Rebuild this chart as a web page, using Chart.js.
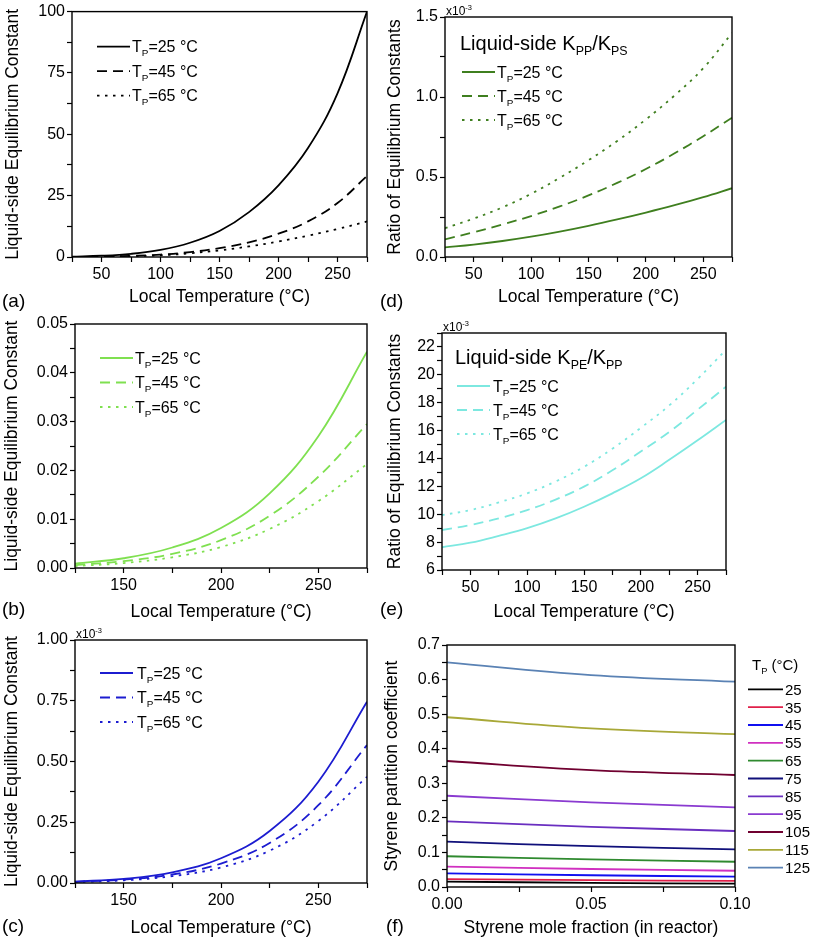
<!DOCTYPE html>
<html><head><meta charset="utf-8">
<script src="https://cdn.jsdelivr.net/npm/chart.js@4.4.1/dist/chart.umd.min.js"></script>
<style>
html,body{margin:0;padding:0;background:#fff}
body{position:relative;width:813px;height:940px;overflow:hidden;font-family:"Liberation Sans",Arial,sans-serif}
canvas{position:absolute}
.pl{position:absolute;font-size:19px;line-height:19px;color:#000;white-space:nowrap}
</style></head><body>
<canvas id="ca"></canvas><canvas id="cb"></canvas><canvas id="cc"></canvas>
<canvas id="cd"></canvas><canvas id="ce"></canvas><canvas id="cf"></canvas>
<div class="pl" style="left:2px;top:291px">(a)</div>
<div class="pl" style="left:380px;top:291px">(d)</div>
<div class="pl" style="left:2px;top:599px">(b)</div>
<div class="pl" style="left:380px;top:599px">(e)</div>
<div class="pl" style="left:2px;top:916px">(c)</div>
<div class="pl" style="left:386px;top:916px">(f)</div>
<script>
const FONT = '"Liberation Sans", Arial, sans-serif';

// ---------- data ----------
const tempFull = [25, 50, 75, 100, 125, 150, 175, 200, 225, 250, 275];
const tempHigh = [125, 150, 175, 200, 225, 250, 275];
const tpLabels = ['25', '45', '65'];

// (a) liquid-side equilibrium constant
const kA25 = [0.19, 0.52, 1.3, 2.9, 5.8, 10.6, 18.3, 29.2, 44.4, 66.7, 100];
const kA45 = [0.04, 0.15, 0.45, 1.0, 2.0, 3.6, 6.0, 9.5, 14.5, 22, 33];
const kA65 = [0.03, 0.1, 0.3, 0.7, 1.5, 2.7, 4.3, 6.3, 8.7, 11.4, 14.5];
// (d) KPP/KPS  (x10^-3)
const rD25 = [0.06, 0.078, 0.1, 0.127, 0.159, 0.195, 0.235, 0.278, 0.324, 0.374, 0.43];
const rD45 = [0.11, 0.155, 0.203, 0.256, 0.316, 0.385, 0.463, 0.55, 0.648, 0.755, 0.87];
const rD65 = [0.18, 0.24, 0.31, 0.395, 0.495, 0.605, 0.725, 0.86, 1.01, 1.18, 1.40];
// (b)
const kB25 = [0.0009, 0.0020, 0.0042, 0.0082, 0.0153, 0.027, 0.0443];
const kB45 = [0.0006, 0.0014, 0.0029, 0.0057, 0.0107, 0.0187, 0.0295];
const kB65 = [0.0004, 0.0010, 0.0022, 0.0043, 0.0080, 0.0137, 0.0213];
// (e) KPE/KPP (x10^-3)
const rE25 = [7.63, 7.96, 8.45, 9.0, 9.7, 10.54, 11.5, 12.58, 13.9, 15.3, 16.76];
const rE45 = [8.87, 9.23, 9.7, 10.3, 11.05, 11.98, 13.15, 14.5, 15.9, 17.5, 19.15];
const rE65 = [9.94, 10.3, 10.85, 11.5, 12.35, 13.4, 14.7, 16.2, 17.8, 19.7, 21.8];
// (c) (x10^-3)
const kC25 = [0.006, 0.017, 0.044, 0.102, 0.214, 0.417, 0.746];
const kC45 = [0.005, 0.014, 0.035, 0.080, 0.165, 0.32, 0.568];
const kC65 = [0.004, 0.011, 0.028, 0.064, 0.133, 0.255, 0.437];
// (f) styrene partition coefficient
const styreneX = [0, 0.05, 0.1];
const tpF = ['25', '35', '45', '55', '65', '75', '85', '95', '105', '115', '125'];
const pF25 = [0.0155, 0.012, 0.0095];
const pF35 = [0.023, 0.020, 0.0175];
const pF45 = [0.0395, 0.034, 0.030];
const pF55 = [0.059, 0.052, 0.047];
const pF65 = [0.089, 0.080, 0.073];
const pF75 = [0.131, 0.118, 0.109];
const pF85 = [0.190, 0.174, 0.162];
const pF95 = [0.264, 0.245, 0.2305];
const pF105 = [0.3645, 0.338, 0.324];
const pF115 = [0.491, 0.459, 0.442];
const pF125 = [0.650, 0.613, 0.594];
const fColors = ['#000000', '#e0204a', '#1010f0', '#d030c0', '#2f8a2f', '#10107a', '#6a2fc0', '#8a3ad0', '#700030', '#a8a838', '#5a82b4'];

// ---------- helpers ----------
Chart.defaults.font.family = FONT;
Chart.defaults.color = '#000';
const DASHES = [[], [10, 6], [2.5, 5.5]];
function pts(xs, ys) { return xs.map((x, i) => ({x: x, y: ys[i]})); }
function tpSeries(xs, arrs, color) {
  return arrs.map((a, i) => ({
    label: 'TP=' + tpLabels[i] + ' °C', data: pts(xs, a), borderColor: color,
    borderDash: DASHES[i], borderWidth: 1.8, fill: false
  }));
}
const tpParts = tpLabels.map(t => [['T'], ['P', 1], ['=' + t + ' °C']]);

function rich(ctx, x, yMid, parts, size, color) {
  let cx = x;
  const base = yMid + size * 0.36;
  ctx.fillStyle = color || '#000';
  ctx.textAlign = 'left'; ctx.textBaseline = 'alphabetic';
  for (const p of parts) {
    const sub = p[1] === 1, sup = p[1] === 2;
    const fs = (sub || sup) ? size * 0.62 : size;
    ctx.font = fs + 'px ' + FONT;
    const y = sub ? base + size * 0.24 : (sup ? base - size * 0.42 : base);
    ctx.fillText(p[0], cx, y);
    cx += ctx.measureText(p[0]).width;
  }
}

const META = {};
const annot = {
  id: 'annot',
  afterDatasetsDraw(chart) {
    const m = META[chart.canvas.id]; if (!m) return;
    const ctx = chart.ctx, ca = chart.chartArea;
    ctx.save();
    ctx.setLineDash([]); ctx.strokeStyle = '#000'; ctx.lineWidth = 1.4;
    ctx.strokeRect(ca.left, ca.top, ca.right - ca.left, ca.bottom - ca.top);
    if (m.exp) rich(ctx, ca.left + 1, ca.top - 2 - 12 * 0.36, [['x10'], ['-3', 2]], 12);
    if (m.title) rich(ctx, ca.left + m.title.x, ca.top + m.title.y, m.title.parts, m.title.size);
    if (m.legend) {
      const L = m.legend;
      chart.data.datasets.forEach((ds, i) => {
        const y = ca.top + L.y + i * L.dy;
        ctx.beginPath(); ctx.setLineDash(ds.borderDash || []);
        ctx.lineWidth = ds.borderWidth; ctx.strokeStyle = ds.borderColor;
        ctx.moveTo(ca.left + L.x0, y); ctx.lineTo(ca.left + L.x1, y); ctx.stroke();
        ctx.setLineDash([]);
        rich(ctx, ca.left + L.tx, y, L.parts[i], L.size);
      });
      if (L.head) rich(ctx, ca.left + L.head.x, ca.top + L.head.y, L.head.parts, L.head.size);
    }
    ctx.restore();
  }
};

function panel(id, box, plot, xs, ys, datasets, meta) {
  const cv = document.getElementById(id);
  cv.width = box.w; cv.height = box.h;
  cv.style.left = box.x + 'px'; cv.style.top = box.y + 'px';
  cv.style.width = box.w + 'px'; cv.style.height = box.h + 'px';
  META[id] = meta;
  const yW = plot.L - box.x, xH = box.y + box.h - plot.B;
  const grid = {drawOnChartArea: false, drawTicks: true, tickLength: 5, color: '#000', tickWidth: 1.2};
  return new Chart(cv, {
    type: 'line',
    data: {datasets: datasets},
    options: {
      responsive: false, animation: false, devicePixelRatio: 1,
      layout: {padding: {left: 0, top: plot.T - box.y, right: box.x + box.w - plot.R, bottom: 0}},
      plugins: {legend: {display: false}, tooltip: {enabled: false}},
      elements: {point: {radius: 0}, line: {tension: 0.4, capBezierPoints: true}},
      scales: {
        x: {
          type: 'linear', min: xs.min, max: xs.max,
          afterFit(s) { s.height = xH; },
          ticks: {stepSize: xs.step, autoSkip: false, maxRotation: 0, maxTicksLimit: 1000, padding: 3,
                  font: {size: 16}, color: '#000', callback: xs.fmt},
          grid: grid, border: {display: false},
          title: {display: true, text: xs.title, font: {size: 17.5}, color: '#000', padding: {top: 0, bottom: xs.tpad}}
        },
        y: {
          type: 'linear', min: ys.min, max: ys.max,
          afterFit(s) { s.width = yW; },
          ticks: {stepSize: ys.step, autoSkip: false, maxTicksLimit: 1000, padding: 2,
                  font: {size: 16}, color: '#000', callback: ys.fmt},
          grid: grid, border: {display: false},
          title: {display: true, text: ys.title, font: {size: 17.5}, color: '#000', padding: {top: ys.tpad, bottom: 0}}
        }
      }
    },
    plugins: [annot]
  });
}

const fmtT = v => (Math.round(v) % 50 === 0 ? String(Math.round(v)) : '');
const multFmt = (step, every, dec) => v => {
  const r = Math.round(v / step);
  return r % every === 0 ? (r * step).toFixed(dec) : '';
};
const XT = 'Local Temperature (°C)';
const YL = 'Liquid-side Equilibrium Constant';
const YR = 'Ratio of Equilibrium Constants';

// (a)
panel('ca', {x: 0, y: 0, w: 378, h: 310}, {L: 72, T: 10, R: 367, B: 257},
  {min: 25, max: 275, step: 25, fmt: fmtT, title: XT, tpad: 2.5},
  {min: 0, max: 100, step: 12.5, fmt: multFmt(12.5, 2, 0), title: YL, tpad: 2.5},
  tpSeries(tempFull, [kA25, kA45, kA65], '#000000'),
  {legend: {x0: 25, x1: 58, tx: 60, y: 35, dy: 24.5, size: 16, parts: tpParts}});

// (d)
panel('cd', {x: 380, y: 0, w: 433, h: 310}, {L: 445, T: 17, R: 732, B: 257},
  {min: 25, max: 275, step: 25, fmt: fmtT, title: XT, tpad: 2.5},
  {min: 0, max: 1.5, step: 0.25, fmt: multFmt(0.25, 2, 1), title: YR, tpad: 4.5},
  tpSeries(tempFull, [rD25, rD45, rD65], '#3f7f1f'),
  {exp: true,
   title: {x: 15, y: 26, size: 20, parts: [['Liquid-side K'], ['PP', 1], ['/K'], ['PS', 1]]},
   legend: {x0: 17, x1: 50, tx: 52, y: 55, dy: 24, size: 16, parts: tpParts}});

// (b)
panel('cb', {x: 0, y: 312, w: 378, h: 313}, {L: 75, T: 324, R: 367, B: 568},
  {min: 125, max: 275, step: 25, fmt: fmtT, title: XT, tpad: 2.5},
  {min: 0, max: 0.05, step: 0.005, fmt: multFmt(0.005, 2, 2), title: YL, tpad: 1.5},
  tpSeries(tempHigh, [kB25, kB45, kB65], '#7fe050'),
  {legend: {x0: 25, x1: 58, tx: 60, y: 34, dy: 24.5, size: 16, parts: tpParts}});

// (e)
panel('ce', {x: 380, y: 312, w: 433, h: 313}, {L: 442, T: 333, R: 726, B: 570},
  {min: 25, max: 275, step: 25, fmt: fmtT, title: XT, tpad: 2.5},
  {min: 6, max: 23, step: 1, fmt: v => (Math.round(v) % 2 === 0 ? String(Math.round(v)) : ''), title: YR, tpad: 4.5},
  tpSeries(tempFull, [rE25, rE45, rE65], '#7de8e0'),
  {exp: true,
   title: {x: 13, y: 24, size: 20, parts: [['Liquid-side K'], ['PE', 1], ['/K'], ['PP', 1]]},
   legend: {x0: 15, x1: 48, tx: 51, y: 53, dy: 24, size: 16, parts: tpParts}});

// (c)
panel('cc', {x: 0, y: 626, w: 378, h: 314}, {L: 75, T: 640, R: 367, B: 883},
  {min: 125, max: 275, step: 25, fmt: fmtT, title: XT, tpad: 1.5},
  {min: 0, max: 1, step: 0.125, fmt: multFmt(0.125, 2, 2), title: YL, tpad: 1.5},
  tpSeries(tempHigh, [kC25, kC45, kC65], '#1c1cd0'),
  {exp: true, legend: {x0: 25, x1: 58, tx: 62, y: 33, dy: 24.5, size: 16, parts: tpParts}});

// (f)
const fSeries = [pF25, pF35, pF45, pF55, pF65, pF75, pF85, pF95, pF105, pF115, pF125];
panel('cf', {x: 380, y: 626, w: 433, h: 314}, {L: 447, T: 645, R: 735, B: 887},
  {min: 0, max: 0.1, step: 0.025, fmt: multFmt(0.025, 2, 2), title: 'Styrene mole fraction (in reactor)', tpad: 1.5},
  {min: 0, max: 0.7, step: 0.05, fmt: multFmt(0.05, 2, 1), title: 'Styrene partition coefficient', tpad: 1.5},
  fSeries.map((a, i) => ({label: tpF[i], data: pts(styreneX, a), borderColor: fColors[i], borderWidth: 1.8, borderDash: [], fill: false})),
  {legend: {x0: 301, x1: 336, tx: 338, y: 44.3, dy: 17.84, size: 15, parts: tpF.map(t => [[t]]),
            head: {x: 305, y: 20, size: 15, parts: [['T'], ['P', 1], [' (°C)']]}}});
</script>
</body></html>
